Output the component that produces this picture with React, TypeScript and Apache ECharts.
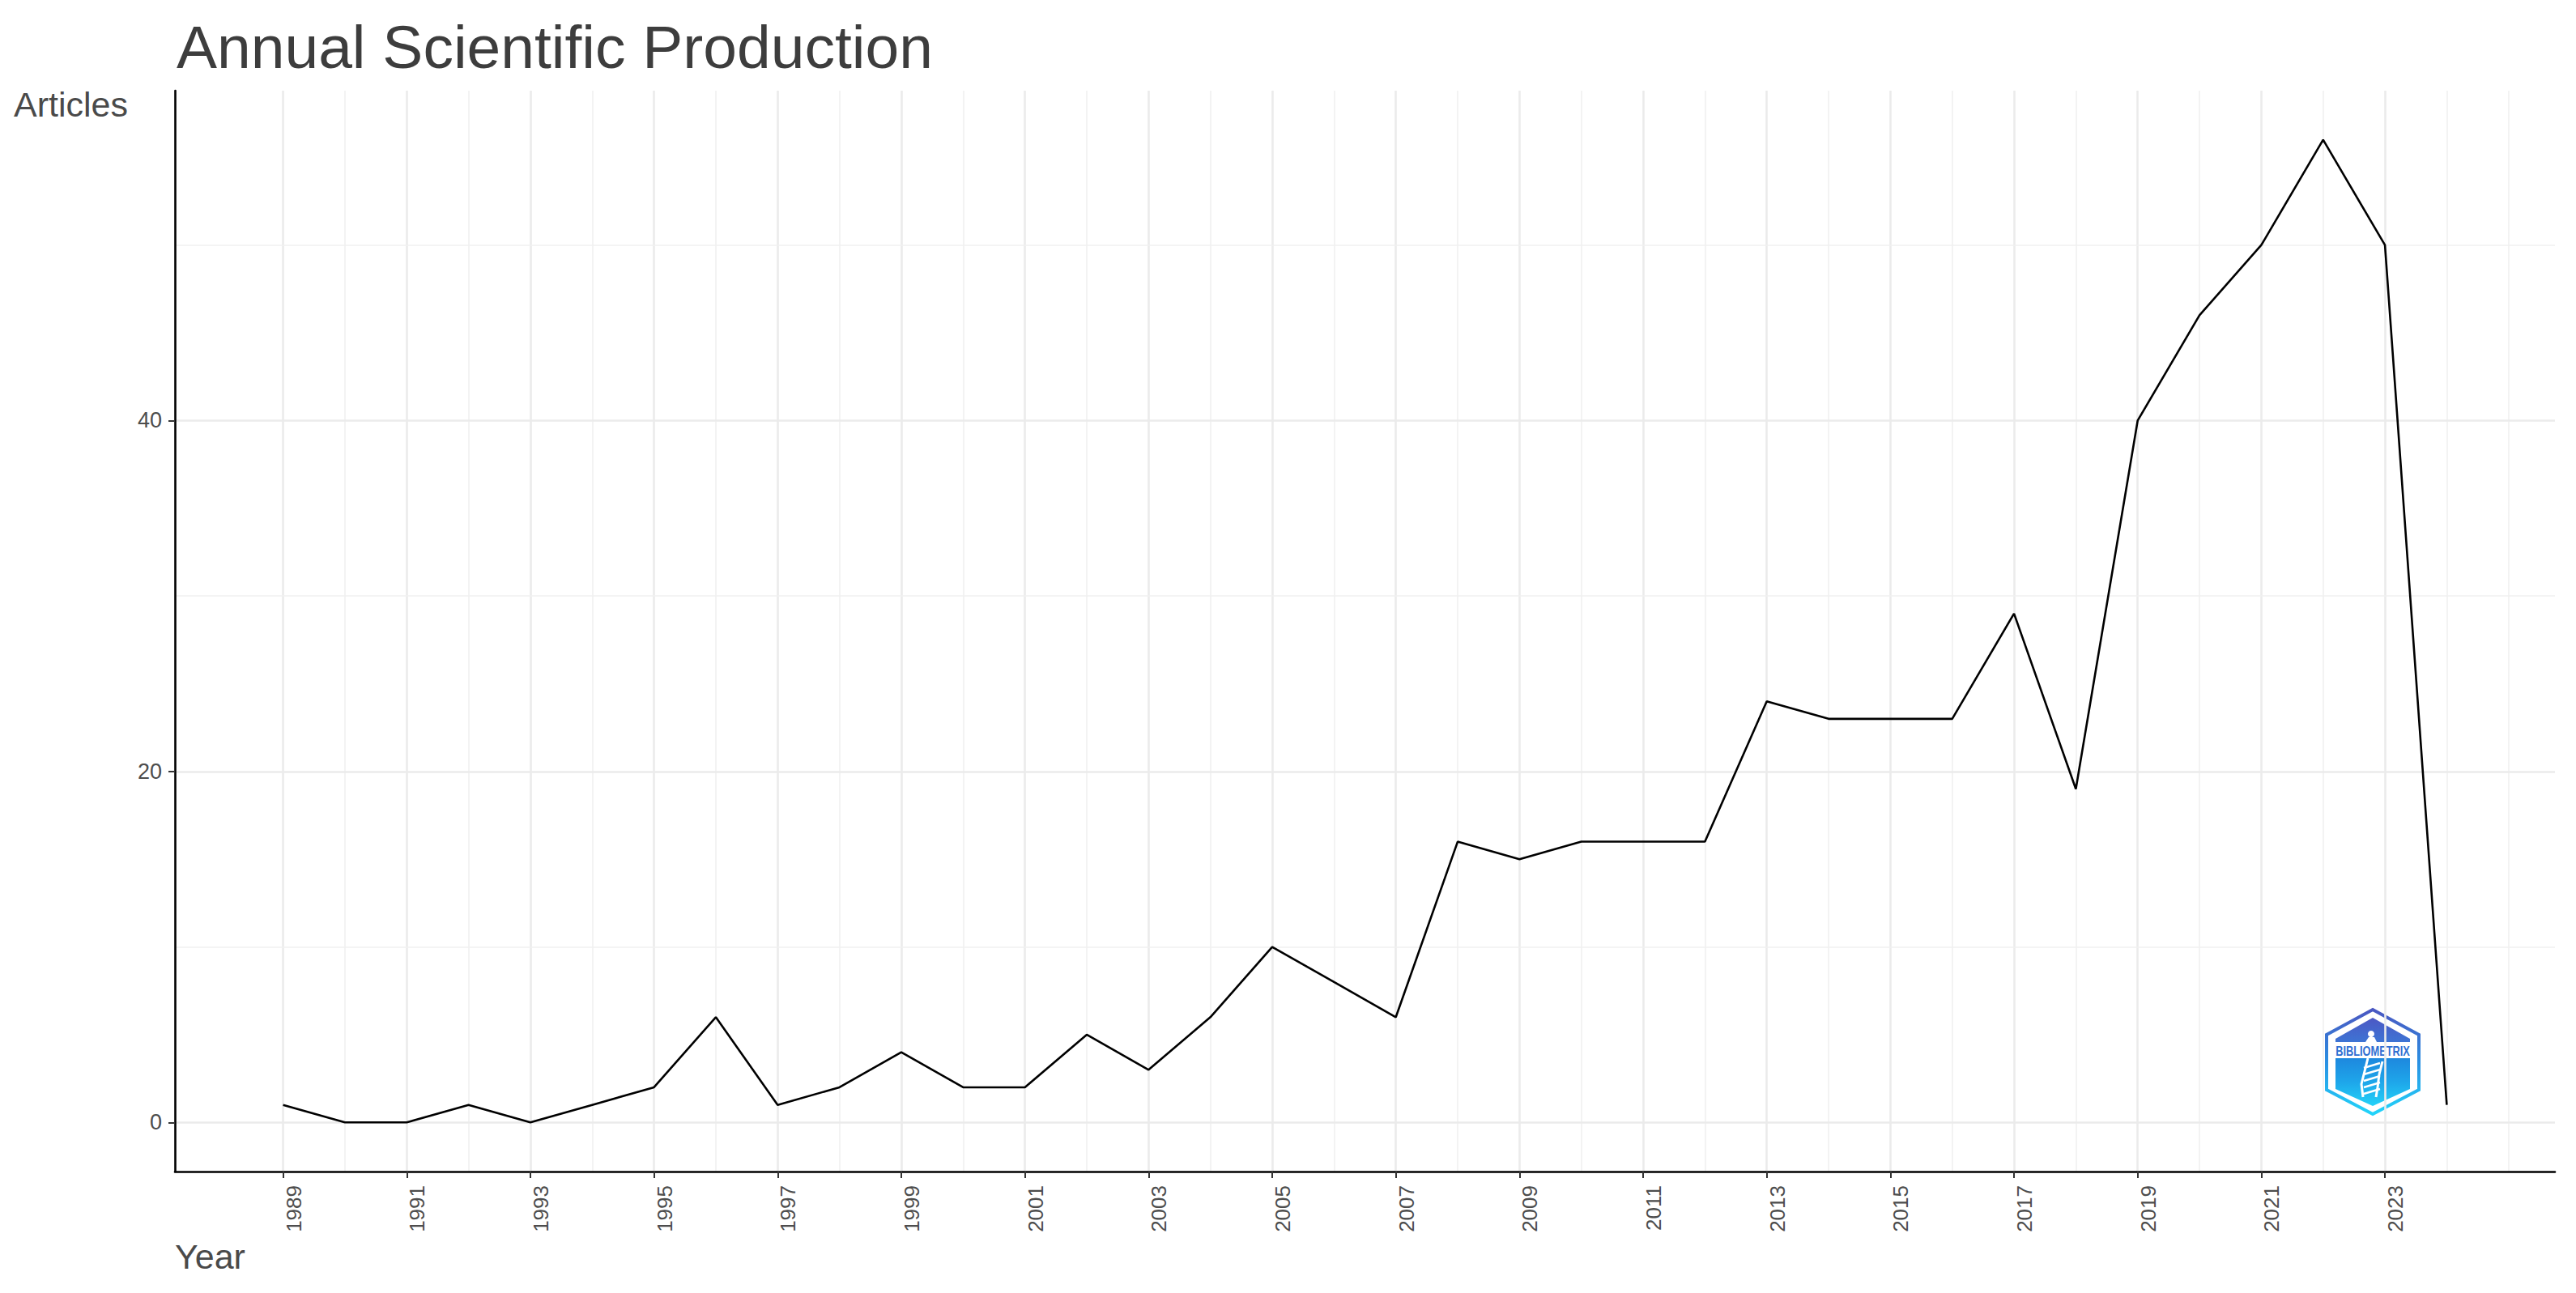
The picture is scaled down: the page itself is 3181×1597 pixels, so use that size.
import React, { useEffect, useRef } from "react";
import * as echarts from "echarts";

// ---- Data ----
const years = [
  1989, 1990, 1991, 1992, 1993, 1994, 1995, 1996, 1997, 1998, 1999, 2000,
  2001, 2002, 2003, 2004, 2005, 2006, 2007, 2008, 2009, 2010, 2011, 2012,
  2013, 2014, 2015, 2016, 2017, 2018, 2019, 2020, 2021, 2022, 2023, 2024,
];
const articles = [
  1, 0, 0, 1, 0, 1, 2, 6, 1, 2, 4, 2,
  2, 5, 3, 6, 10, 8, 6, 16, 15, 16, 16, 16,
  24, 23, 23, 23, 29, 19, 40, 46, 50, 56, 50, 1,
];
const xTickLabels = [
  1989, 1991, 1993, 1995, 1997, 1999, 2001, 2003, 2005, 2007, 2009, 2011,
  2013, 2015, 2017, 2019, 2021, 2023,
];
const xGridMinor = [
  1990, 1992, 1994, 1996, 1998, 2000, 2002, 2004, 2006, 2008, 2010, 2012,
  2014, 2016, 2018, 2020, 2022, 2024, 2025,
];
const yTickLabels = [0, 20, 40];
const yGridMinor = [10, 30, 50];

const xMin = 1987.25;
const xMax = 2025.75;
const yMin = -2.8;
const yMax = 58.8;

const FONT = "'Liberation Sans', Arial, Helvetica, sans-serif";

export default function App() {
  const ref = useRef<HTMLDivElement>(null);

  useEffect(() => {
    if (!ref.current) return;
    const chart = echarts.init(ref.current, undefined, { renderer: "svg" });

    const majorStyle = { color: "#ebebeb", width: 2.6, type: "solid" };
    const minorStyle = { color: "#f0f0f0", width: 1.6, type: "solid" };

    const gridLines = [
      ...xTickLabels.map((v) => ({ xAxis: v, lineStyle: majorStyle })),
      ...xGridMinor.map((v) => ({ xAxis: v, lineStyle: minorStyle })),
      ...yTickLabels.map((v) => ({ yAxis: v, lineStyle: majorStyle })),
      ...yGridMinor.map((v) => ({ yAxis: v, lineStyle: minorStyle })),
    ];

    const vGrad = (stops: string[]) =>
      new echarts.graphic.LinearGradient(
        0,
        0,
        0,
        1,
        stops.map((c, i) => ({ offset: i / (stops.length - 1), color: c }))
      );

    const option: any = {
      animation: false,
      backgroundColor: "#ffffff",
      grid: { left: 216, right: 26, top: 112, bottom: 150, containLabel: false },
      xAxis: {
        type: "value",
        min: xMin,
        max: xMax,
        z: 6,
        axisLine: { show: true, onZero: false, lineStyle: { color: "#000", width: 2.6 } },
        axisTick: {
          show: true,
          customValues: xTickLabels,
          length: 8,
          lineStyle: { color: "#333", width: 2 },
        },
        axisLabel: {
          show: true,
          customValues: xTickLabels,
          rotate: 90,
          margin: 17,
          fontSize: 26,
          color: "#4d4d4d",
          fontFamily: FONT,
          verticalAlign: "top",
          formatter: (v: number) => String(v),
        },
        splitLine: { show: false },
      },
      yAxis: {
        type: "value",
        min: yMin,
        max: yMax,
        z: 6,
        axisLine: { show: true, onZero: false, lineStyle: { color: "#000", width: 2.6 } },
        axisTick: {
          show: true,
          customValues: yTickLabels,
          length: 8,
          lineStyle: { color: "#333", width: 2 },
        },
        axisLabel: {
          show: true,
          customValues: yTickLabels,
          margin: 16,
          fontSize: 27,
          color: "#4d4d4d",
          fontFamily: FONT,
          formatter: (v: number) => String(v),
        },
        splitLine: { show: false },
      },
      series: [
        {
          type: "line",
          name: "grid",
          data: [],
          z: 1,
          silent: true,
          markLine: {
            z: 1,
            silent: true,
            symbol: ["none", "none"],
            label: { show: false },
            emphasis: { disabled: true },
            data: gridLines,
          },
        },
        {
          type: "line",
          name: "Articles",
          data: years.map((y, i) => [y, articles[i]]),
          showSymbol: false,
          symbol: "none",
          z: 4,
          lineStyle: { color: "#000", width: 2.6 },
        },
      ],
      graphic: [
        {
          type: "text",
          left: 218,
          top: 20,
          style: {
            text: "Annual Scientific Production",
            font: `75px ${FONT}`,
            fill: "#3d3d3d",
          },
        },
        {
          type: "text",
          left: 17,
          top: 107,
          style: {
            text: "Articles",
            font: `43px ${FONT}`,
            fill: "#4a4a4a",
          },
        },
        {
          type: "text",
          left: 216,
          top: 1530,
          style: {
            text: "Year",
            font: `43px ${FONT}`,
            fill: "#4a4a4a",
          },
        },
        {
          type: "group",
          x: 2930,
          y: 1311,
          z: 10,
          children: [
            {
              type: "polygon",
              shape: {
                points: [
                  [0, -64],
                  [57, -33],
                  [57, 35],
                  [0, 65],
                  [-57, 35],
                  [-57, -33],
                ],
              },
              style: {
                fill: "none",
                stroke: vGrad(["#4a58c2", "#2a8fe2", "#22d4fa"]),
                lineWidth: 4,
              },
            },
            {
              type: "polygon",
              shape: {
                points: [
                  [0, -54],
                  [46, -28],
                  [46, -24],
                  [-46, -24],
                  [-46, -28],
                ],
              },
              style: { fill: vGrad(["#4c58c4", "#3d74d4"]) },
            },
            {
              type: "polygon",
              shape: {
                points: [
                  [-46, -4],
                  [46, -4],
                  [46, 34],
                  [0, 55],
                  [-46, 34],
                ],
              },
              style: { fill: vGrad(["#1e88de", "#1ea6ea", "#23d2f8"]) },
            },
            {
              type: "text",
              x: 0,
              y: -13,
              scaleX: 0.8,
              style: {
                text: "BIBLIOMETRIX",
                font: `bold 16px ${FONT}`,
                fill: "#2f6fd2",
                align: "center",
                verticalAlign: "middle",
              },
            },
            {
              type: "circle",
              shape: { cx: -2, cy: -34, r: 4 },
              style: { fill: "#ffffff" },
            },
            {
              type: "polygon",
              shape: {
                points: [
                  [-9, -24],
                  [-5, -30],
                  [2, -30],
                  [5, -24],
                ],
              },
              style: { fill: "#ffffff" },
            },
            {
              type: "polyline",
              shape: {
                points: [
                  [-6, -4],
                  [-10, 12],
                  [-14, 28],
                  [-12, 44],
                ],
              },
              style: { stroke: "#ffffff", lineWidth: 3, fill: "none" },
            },
            {
              type: "polyline",
              shape: {
                points: [
                  [12, 0],
                  [8, 16],
                  [6, 32],
                  [4, 44],
                ],
              },
              style: { stroke: "#ffffff", lineWidth: 3, fill: "none" },
            },
            ...[6, 14, 22, 30, 38].map((dy) => ({
              type: "line",
              shape: { x1: -11, y1: dy + 2, x2: 9, y2: dy - 4 },
              style: { stroke: "#ffffff", lineWidth: 2.5 },
            })),
          ],
        },
      ],
    };

    chart.setOption(option);
    return () => {
      chart.dispose();
    };
  }, []);

  return (
    <div
      ref={ref}
      style={{
        position: "fixed",
        left: 0,
        top: 0,
        width: 3181,
        height: 1597,
        background: "#fff",
      }}
    />
  );
}
